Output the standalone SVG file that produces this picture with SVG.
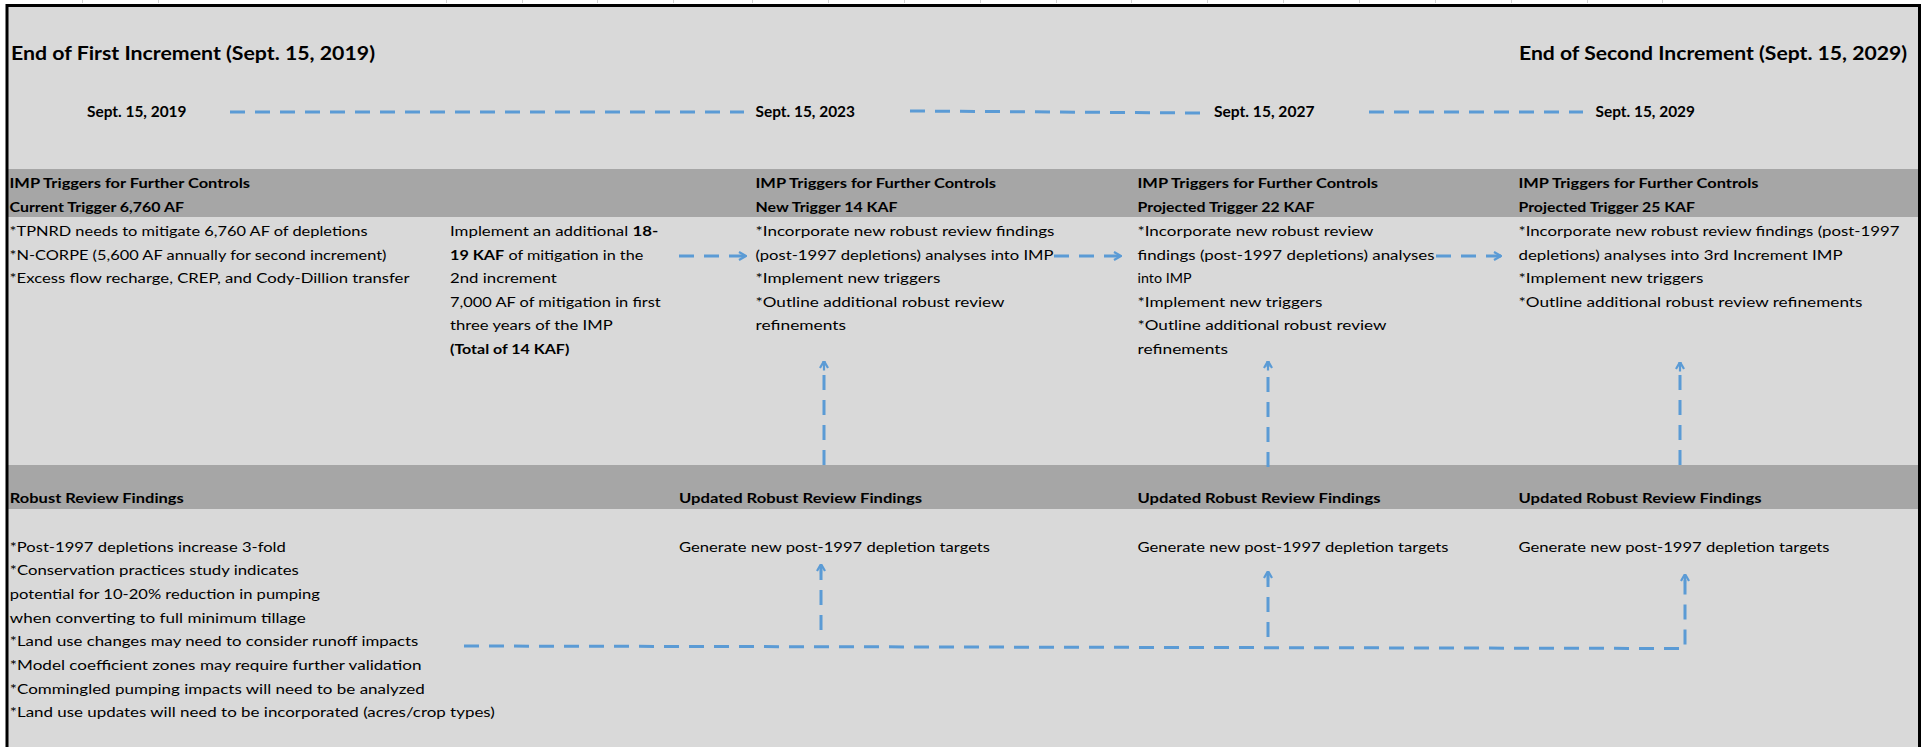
<svg xmlns="http://www.w3.org/2000/svg" width="1929" height="747" viewBox="0 0 1929 747">
<defs>
<style>
.t{font-family:Lato,"Open Sans","Liberation Sans",sans-serif;font-size:13.5px;fill:#000}
.b{font-weight:bold}
.ttl{font-family:Lato,"Open Sans","Liberation Sans",sans-serif;font-size:19px;font-weight:bold;fill:#000}
.dt{font-family:Lato,"Open Sans","Liberation Sans",sans-serif;font-size:15px;font-weight:bold;fill:#000}
.band{fill:#A6A6A6}
.c{fill:none;stroke:#5B9BD5;stroke-width:3;stroke-dasharray:15 10}
.tick{stroke:#D2D2D2;stroke-width:1}
</style>
<marker id="arr" markerUnits="userSpaceOnUse" viewBox="0 0 10 10" refX="9.5" refY="5" markerWidth="10" markerHeight="10" orient="auto">
<path d="M0,5 H9 M2.5,1 L9.5,5 L2.5,9" fill="none" stroke="#5B9BD5" stroke-width="2.2"/>
</marker>
</defs>
<rect x="0" y="0" width="1929" height="747" fill="#FFFFFF"/>
<g id="grid-ticks">
<path class="tick" d="M82.5,0 V3 M158.5,0 V3 M446.5,0 V3 M522.5,0 V3 M597.5,0 V3 M673.5,0 V3 M752.5,0 V3 M828.5,0 V3 M904.5,0 V3 M980.5,0 V3 M1056.5,0 V3 M1131.5,0 V3 M1207.5,0 V3 M1283.5,0 V3 M1359.5,0 V3 M1435.5,0 V3 M1511.5,0 V3 M1587.5,0 V3 M1662.5,0 V3"/>
</g>
<rect x="7" y="5.5" width="1912.5" height="742" fill="#D9D9D9"/>
<rect class="band" x="7" y="169" width="1912.5" height="48"/>
<rect class="band" x="7" y="465" width="1912.5" height="44"/>
<path d="M7,747 V5.5 H1919.5 V747" fill="none" stroke="#000" stroke-width="3"/>

<g id="title-first"><text class="ttl" x="11" y="60" textLength="364" lengthAdjust="spacingAndGlyphs">End of First Increment (Sept. 15, 2019)</text></g>
<g id="title-second"><text class="ttl" x="1519" y="60" textLength="388" lengthAdjust="spacingAndGlyphs">End of Second Increment (Sept. 15, 2029)</text></g>

<g id="date-2019"><text class="dt" x="87" y="117" textLength="99.5" lengthAdjust="spacingAndGlyphs">Sept. 15, 2019</text></g>
<g id="date-2023"><text class="dt" x="755.5" y="117" textLength="99.5" lengthAdjust="spacingAndGlyphs">Sept. 15, 2023</text></g>
<g id="date-2027"><text class="dt" x="1214" y="117" textLength="100.5" lengthAdjust="spacingAndGlyphs">Sept. 15, 2027</text></g>
<g id="date-2029"><text class="dt" x="1595.5" y="117" textLength="99.5" lengthAdjust="spacingAndGlyphs">Sept. 15, 2029</text></g>

<g id="imp-current">
<text class="t b" x="9.5" y="187.7" textLength="240.5" lengthAdjust="spacingAndGlyphs">IMP Triggers for Further Controls</text>
<text class="t b" x="9.5" y="211.7" textLength="174.5" lengthAdjust="spacingAndGlyphs">Current Trigger 6,760 AF</text>
<text class="t" x="9.5" y="236" textLength="358" lengthAdjust="spacingAndGlyphs">*TPNRD needs to mitigate 6,760 AF of depletions</text>
<text class="t" x="9.5" y="259.5" textLength="377" lengthAdjust="spacingAndGlyphs">*N-CORPE (5,600 AF annually for second increment)</text>
<text class="t" x="9.5" y="283" textLength="400" lengthAdjust="spacingAndGlyphs">*Excess flow recharge, CREP, and Cody-Dillion transfer</text>
</g>

<g id="mitigation">
<text class="t" x="450" y="236" textLength="208.3" lengthAdjust="spacingAndGlyphs">Implement an additional <tspan class="b">18-</tspan></text>
<text class="t" x="450" y="259.5" textLength="193.3" lengthAdjust="spacingAndGlyphs"><tspan class="b">19 KAF</tspan> of mitigation in the</text>
<text class="t" x="450" y="283" textLength="106.7" lengthAdjust="spacingAndGlyphs">2nd increment</text>
<text class="t" x="450" y="306.5" textLength="210.7" lengthAdjust="spacingAndGlyphs">7,000 AF of mitigation in first</text>
<text class="t" x="450" y="330" textLength="162.7" lengthAdjust="spacingAndGlyphs">three years of the IMP</text>
<text class="t b" x="450" y="353.5" textLength="119.3" lengthAdjust="spacingAndGlyphs">(Total of 14 KAF)</text>
</g>

<g id="imp-2023">
<text class="t b" x="755.5" y="187.7" textLength="240.5" lengthAdjust="spacingAndGlyphs">IMP Triggers for Further Controls</text>
<text class="t b" x="755.5" y="211.7" textLength="142" lengthAdjust="spacingAndGlyphs">New Trigger 14 KAF</text>
<text class="t" x="755.5" y="236" textLength="299" lengthAdjust="spacingAndGlyphs">*Incorporate new robust review findings</text>
<text class="t" x="755.5" y="259.5" textLength="298" lengthAdjust="spacingAndGlyphs">(post-1997 depletions) analyses into IMP</text>
<text class="t" x="755.5" y="283" textLength="185" lengthAdjust="spacingAndGlyphs">*Implement new triggers</text>
<text class="t" x="755.5" y="306.5" textLength="249" lengthAdjust="spacingAndGlyphs">*Outline additional robust review</text>
<text class="t" x="755.5" y="330" textLength="90.5" lengthAdjust="spacingAndGlyphs">refinements</text>
</g>

<g id="imp-2027">
<text class="t b" x="1137.5" y="187.7" textLength="240.5" lengthAdjust="spacingAndGlyphs">IMP Triggers for Further Controls</text>
<text class="t b" x="1137.5" y="211.7" textLength="177" lengthAdjust="spacingAndGlyphs">Projected Trigger 22 KAF</text>
<text class="t" x="1137.5" y="236" textLength="236" lengthAdjust="spacingAndGlyphs">*Incorporate new robust review</text>
<text class="t" x="1137.5" y="259.5" textLength="297" lengthAdjust="spacingAndGlyphs">findings (post-1997 depletions) analyses</text>
<text class="t" x="1137.5" y="283" textLength="54" lengthAdjust="spacingAndGlyphs">into IMP</text>
<text class="t" x="1137.5" y="306.5" textLength="185" lengthAdjust="spacingAndGlyphs">*Implement new triggers</text>
<text class="t" x="1137.5" y="330" textLength="249" lengthAdjust="spacingAndGlyphs">*Outline additional robust review</text>
<text class="t" x="1137.5" y="353.5" textLength="90.5" lengthAdjust="spacingAndGlyphs">refinements</text>
</g>

<g id="imp-2029">
<text class="t b" x="1518.5" y="187.7" textLength="240" lengthAdjust="spacingAndGlyphs">IMP Triggers for Further Controls</text>
<text class="t b" x="1518.5" y="211.7" textLength="176.5" lengthAdjust="spacingAndGlyphs">Projected Trigger 25 KAF</text>
<text class="t" x="1518.5" y="236" textLength="381" lengthAdjust="spacingAndGlyphs">*Incorporate new robust review findings (post-1997</text>
<text class="t" x="1518.5" y="259.5" textLength="324" lengthAdjust="spacingAndGlyphs">depletions) analyses into 3rd Increment IMP</text>
<text class="t" x="1518.5" y="283" textLength="185" lengthAdjust="spacingAndGlyphs">*Implement new triggers</text>
<text class="t" x="1518.5" y="306.5" textLength="344" lengthAdjust="spacingAndGlyphs">*Outline additional robust review refinements</text>
</g>

<g id="robust-review">
<text class="t b" x="9.8" y="503.3" textLength="174" lengthAdjust="spacingAndGlyphs">Robust Review Findings</text>
<text class="t" x="9.8" y="551.5" textLength="276" lengthAdjust="spacingAndGlyphs">*Post-1997 depletions increase 3-fold</text>
<text class="t" x="9.8" y="575.2" textLength="289" lengthAdjust="spacingAndGlyphs">*Conservation practices study indicates</text>
<text class="t" x="9.8" y="598.9" textLength="310" lengthAdjust="spacingAndGlyphs">potential for 10-20% reduction in pumping</text>
<text class="t" x="9.8" y="622.6" textLength="296" lengthAdjust="spacingAndGlyphs">when converting to full minimum tillage</text>
<text class="t" x="9.8" y="646.3" textLength="408.5" lengthAdjust="spacingAndGlyphs">*Land use changes may need to consider runoff impacts</text>
<text class="t" x="9.8" y="670" textLength="411.7" lengthAdjust="spacingAndGlyphs">*Model coefficient zones may require further validation</text>
<text class="t" x="9.8" y="693.7" textLength="415" lengthAdjust="spacingAndGlyphs">*Commingled pumping impacts will need to be analyzed</text>
<text class="t" x="9.8" y="717.4" textLength="485" lengthAdjust="spacingAndGlyphs">*Land use updates will need to be incorporated (acres/crop types)</text>
</g>

<g id="updated-2023">
<text class="t b" x="679" y="503.3" textLength="243" lengthAdjust="spacingAndGlyphs">Updated Robust Review Findings</text>
<text class="t" x="679" y="551.5" textLength="311" lengthAdjust="spacingAndGlyphs">Generate new post-1997 depletion targets</text>
</g>
<g id="updated-2027">
<text class="t b" x="1137.5" y="503.3" textLength="243" lengthAdjust="spacingAndGlyphs">Updated Robust Review Findings</text>
<text class="t" x="1137.5" y="551.5" textLength="311" lengthAdjust="spacingAndGlyphs">Generate new post-1997 depletion targets</text>
</g>
<g id="updated-2029">
<text class="t b" x="1518.5" y="503.3" textLength="243" lengthAdjust="spacingAndGlyphs">Updated Robust Review Findings</text>
<text class="t" x="1518.5" y="551.5" textLength="311" lengthAdjust="spacingAndGlyphs">Generate new post-1997 depletion targets</text>
</g>

<g id="connectors">
<path class="c" d="M230,112 H744"/>
<path class="c" d="M910,111 L1200,113"/>
<path class="c" d="M1369,112 H1583"/>
<path class="c" d="M679,256 H746" marker-end="url(#arr)"/>
<path class="c" d="M1054,256 H1121" marker-end="url(#arr)"/>
<path class="c" d="M1436,256 H1501" marker-end="url(#arr)"/>
<path class="c" d="M824,465 V361" marker-end="url(#arr)"/>
<path class="c" d="M1268,467 V361" marker-end="url(#arr)"/>
<path class="c" d="M1680,465 V362" marker-end="url(#arr)"/>
<path class="c" d="M821,630 V564" marker-end="url(#arr)"/>
<path class="c" d="M1268,637 V571" marker-end="url(#arr)"/>
<path class="c" d="M464,646 L1685,648.5 V574" marker-end="url(#arr)"/>
</g>
</svg>
